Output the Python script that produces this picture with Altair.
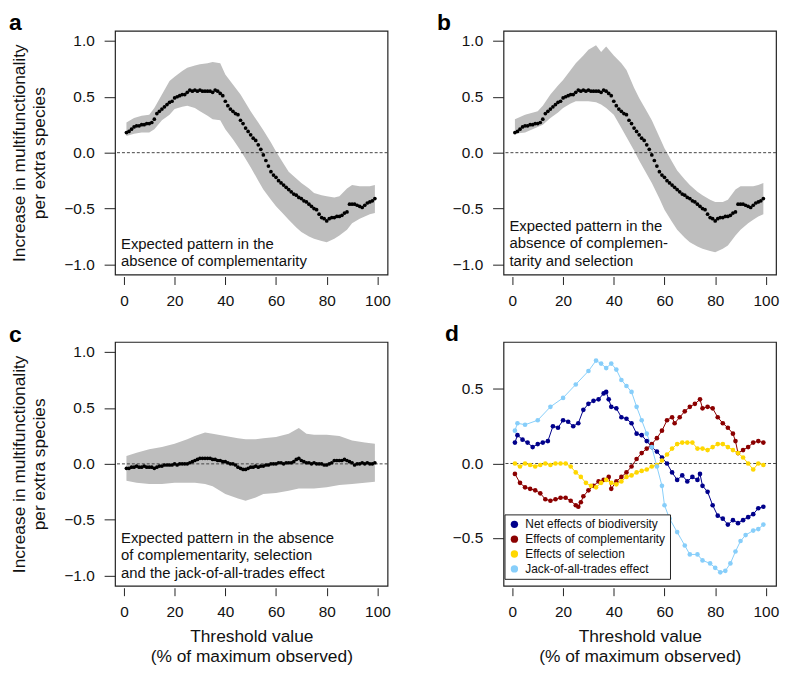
import altair as alt
import pandas as pd

FONT = "Liberation Sans"

# ---------------- data ----------------
thr = list(range(1, 100))

mean_ab = [0.18, 0.19, 0.21, 0.23, 0.24, 0.24, 0.25, 0.25, 0.26, 0.26,
           0.27, 0.30, 0.35, 0.37, 0.39, 0.41, 0.43, 0.45, 0.46, 0.49,
           0.50, 0.51, 0.52, 0.52, 0.54, 0.56, 0.55, 0.56, 0.55, 0.56,
           0.55, 0.55, 0.55, 0.55, 0.54, 0.56, 0.55, 0.53, 0.51, 0.46,
           0.42, 0.39, 0.37, 0.35, 0.34, 0.29, 0.26, 0.22, 0.19, 0.16,
           0.13, 0.11, 0.07, 0.03, -0.02, -0.07, -0.12, -0.17, -0.20, -0.22,
           -0.25, -0.27, -0.29, -0.31, -0.33, -0.35, -0.37, -0.38, -0.40, -0.41,
           -0.43, -0.44, -0.46, -0.48, -0.50, -0.51, -0.55, -0.58, -0.59, -0.61,
           -0.59, -0.58, -0.58, -0.57, -0.57, -0.56, -0.54, -0.53, -0.46, -0.46,
           -0.46, -0.47, -0.48, -0.49, -0.47, -0.45, -0.44, -0.43, -0.41]

band_a_x = [1, 4, 7, 10, 12, 15, 18, 20, 23, 25, 28, 30, 33, 35, 38, 40, 43, 46, 50, 53,
            55, 58, 60, 63, 65, 68, 70, 73, 75, 78, 80, 83, 85, 88, 90, 93, 95, 97, 99]
band_a_lo = [0.15, 0.17, 0.18, 0.18, 0.21, 0.29, 0.34, 0.39, 0.41, 0.42, 0.40, 0.37, 0.33,
             0.30, 0.29, 0.21, 0.12, 0.02, -0.13, -0.25, -0.33, -0.42, -0.48, -0.55, -0.60,
             -0.67, -0.71, -0.75, -0.77, -0.79, -0.80, -0.77, -0.74, -0.69, -0.63, -0.59,
             -0.57, -0.55, -0.54]
band_a_hi = [0.27, 0.31, 0.33, 0.34, 0.40, 0.52, 0.64, 0.68, 0.73, 0.76, 0.78, 0.79, 0.80,
             0.81, 0.80, 0.70, 0.61, 0.52, 0.37, 0.27, 0.20, 0.09, 0.01, -0.10, -0.17,
             -0.23, -0.27, -0.32, -0.36, -0.38, -0.39, -0.40, -0.39, -0.32, -0.29, -0.30,
             -0.30, -0.30, -0.29]

band_b_x = [1, 5, 10, 12, 15, 18, 20, 23, 25, 28, 30, 33, 35, 37, 40, 43, 45, 48, 50, 53,
            55, 58, 60, 63, 65, 68, 70, 73, 75, 78, 80, 83, 85, 88, 90, 93, 95, 97, 99]
band_b_lo = [0.17, 0.18, 0.23, 0.25, 0.31, 0.36, 0.40, 0.44, 0.46, 0.46, 0.46, 0.45, 0.43,
             0.40, 0.34, 0.22, 0.14, 0.02, -0.07, -0.19, -0.27, -0.41, -0.51, -0.62, -0.69,
             -0.76, -0.80, -0.84, -0.86, -0.88, -0.89, -0.86, -0.83, -0.74, -0.69, -0.63,
             -0.60, -0.57, -0.55]
band_b_hi = [0.30, 0.34, 0.37, 0.42, 0.52, 0.60, 0.65, 0.74, 0.80, 0.87, 0.92, 0.96, 0.90,
             0.95, 0.87, 0.80, 0.74, 0.58, 0.49, 0.37, 0.29, 0.14, 0.04, -0.08, -0.16,
             -0.24, -0.29, -0.35, -0.38, -0.42, -0.44, -0.44, -0.42, -0.33, -0.30, -0.30,
             -0.30, -0.29, -0.27]

mean_c = [-0.04, -0.04, -0.03, -0.03, -0.02, -0.03, -0.03, -0.02, -0.03, -0.03,
          -0.03, -0.04, -0.03, -0.02, -0.02, -0.01, -0.01, -0.01, -0.01, 0.00,
          -0.01, 0.00, 0.00, 0.00, 0.00, 0.01, 0.02, 0.03, 0.04, 0.05,
          0.05, 0.05, 0.05, 0.05, 0.04, 0.04, 0.03, 0.03, 0.02, 0.02,
          0.01, 0.00, 0.00, -0.01, -0.03, -0.04, -0.05, -0.05, -0.04, -0.03,
          -0.03, -0.02, -0.03, -0.02, -0.02, -0.01, -0.01, 0.00, 0.00, 0.00,
          0.01, 0.01, 0.00, 0.01, 0.01, 0.01, 0.02, 0.04, 0.05, 0.03,
          0.02, 0.01, 0.01, 0.00, 0.01, 0.00, 0.00, 0.00, -0.01, -0.01,
          0.00, 0.01, 0.03, 0.03, 0.03, 0.03, 0.04, 0.03, 0.02, 0.01,
          -0.01, 0.00, 0.00, 0.01, 0.00, 0.01, 0.00, 0.00, 0.01]

band_c_x = [1, 5, 10, 15, 20, 25, 28, 32, 35, 40, 45, 48, 52, 55, 60, 65, 69, 72, 75, 80,
            85, 90, 95, 99]
band_c_lo = [-0.15, -0.17, -0.18, -0.18, -0.17, -0.17, -0.17, -0.18, -0.20, -0.27, -0.31,
             -0.33, -0.30, -0.27, -0.26, -0.24, -0.22, -0.22, -0.22, -0.21, -0.19, -0.18,
             -0.17, -0.16]
band_c_hi = [0.07, 0.10, 0.13, 0.15, 0.18, 0.22, 0.25, 0.28, 0.27, 0.25, 0.23, 0.22, 0.22,
             0.23, 0.24, 0.27, 0.32, 0.27, 0.26, 0.26, 0.25, 0.21, 0.19, 0.18]

series_names = ["Net effects of biodiversity", "Effects of complementarity",
                "Effects of selection", "Jack-of-all-trades effect"]
series_colors = ["#00008B", "#8B0000", "#FFD700", "#87CEFA"]

net_x = [1, 2, 4, 6, 8, 10, 12, 14, 16, 18, 20, 22, 24, 26, 28, 30, 32, 34, 36, 37, 38, 39,
         41, 43, 45, 47, 49, 51, 53, 55, 57, 59, 61, 63, 65, 67, 69, 71, 73, 74, 75, 77,
         79, 81, 83, 85, 87, 89, 91, 93, 95, 97, 99]
net_y = [0.14, 0.19, 0.16, 0.14, 0.11, 0.13, 0.14, 0.15, 0.25, 0.24, 0.29, 0.28, 0.25,
         0.27, 0.36, 0.40, 0.42, 0.43, 0.47, 0.48, 0.43, 0.38, 0.37, 0.31, 0.30, 0.27,
         0.20, 0.19, 0.15, 0.11, 0.08, 0.04, 0.00, -0.06, -0.11, -0.08, -0.12, -0.09,
         -0.11, -0.07, -0.15, -0.19, -0.28, -0.35, -0.37, -0.41, -0.38, -0.40, -0.38,
         -0.36, -0.34, -0.30, -0.29]

comp_x = [1, 3, 5, 7, 9, 11, 13, 15, 17, 19, 21, 23, 25, 26, 27, 28, 30, 32, 34, 36, 38,
          39, 41, 43, 45, 47, 49, 51, 53, 55, 57, 59, 61, 63, 64, 66, 68, 70, 72, 74, 75,
          77, 79, 81, 83, 85, 87, 88, 89, 91, 93, 95, 97, 99]
comp_y = [-0.07, -0.13, -0.16, -0.17, -0.18, -0.20, -0.24, -0.25, -0.24, -0.23, -0.23,
          -0.25, -0.28, -0.29, -0.26, -0.22, -0.18, -0.15, -0.12, -0.11, -0.09, -0.17,
          -0.12, -0.09, -0.06, -0.02, 0.03, 0.07, 0.10, 0.13, 0.17, 0.22, 0.29, 0.31,
          0.27, 0.31, 0.35, 0.38, 0.40, 0.43, 0.37, 0.38, 0.37, 0.31, 0.27, 0.24, 0.20,
          0.15, 0.07, 0.09, 0.11, 0.14, 0.15, 0.14]

sel_x = [1, 3, 5, 7, 9, 11, 13, 15, 17, 19, 21, 23, 25, 27, 29, 31, 33, 35, 37, 39, 41,
         43, 45, 47, 49, 51, 53, 55, 57, 59, 61, 63, 65, 67, 69, 71, 73, 75, 77, 79, 81,
         83, 85, 87, 89, 91, 93, 95, 97, 99]
sel_y = [0.00, -0.02, 0.00, -0.01, -0.02, -0.01, 0.00, -0.01, 0.00, 0.00, 0.00, -0.02,
         -0.06, -0.09, -0.13, -0.15, -0.16, -0.13, -0.11, -0.13, -0.14, -0.12, -0.09,
         -0.08, -0.06, -0.05, -0.04, -0.02, -0.01, 0.02, 0.06, 0.10, 0.13, 0.14, 0.14,
         0.14, 0.10, 0.10, 0.09, 0.11, 0.13, 0.13, 0.11, 0.09, 0.07, 0.04, 0.00, -0.04,
         0.00, -0.01]

jack_x = [1, 2, 5, 10, 15, 20, 25, 30, 33, 35, 37, 39, 41, 43, 45, 47, 49, 51, 53, 55, 57,
          59, 60, 62, 65, 68, 70, 73, 75, 78, 80, 82, 84, 86, 88, 90, 92, 95, 97, 99]
jack_y = [0.22, 0.27, 0.26, 0.29, 0.38, 0.44, 0.53, 0.62, 0.69, 0.67, 0.64, 0.67, 0.63,
          0.56, 0.52, 0.48, 0.38, 0.29, 0.20, 0.11, -0.02, -0.15, -0.28, -0.37, -0.46,
          -0.55, -0.61, -0.61, -0.65, -0.67, -0.70, -0.73, -0.72, -0.67, -0.59, -0.52,
          -0.48, -0.45, -0.44, -0.41]

x_ticks = [0, 20, 40, 60, 80, 100]
y_ticks_abc = [-1.0, -0.5, 0.0, 0.5, 1.0]
y_ticks_d = [-0.5, 0.0, 0.5]

text_a = "Expected pattern in the\nabsence of complementarity"
text_b = "Expected pattern in the\nabsence of complemen-\ntarity and selection"
text_c = ("Expected pattern in the absence\nof complementarity, selection\n"
          "and the jack-of-all-trades effect")

y_title = ["Increase in multifunctionality", "per extra species"]
x_title = ["Threshold value", "(% of maximum observed)"]

# ---------------- helpers ----------------
W, H = 275, 246
XDOM = [-3.5, 104]
YDOM = [-1.09, 1.09]
YDOM_D = [-0.82, 0.815]
BAND = "#bebebe"


def x_axis(show_title):
    kw = dict(values=x_ticks, format="d", domain=False, grid=False, tickSize=8,
              tickColor="#222", tickWidth=1, offset=2, labelPadding=9,
              labelFont=FONT, labelFontSize=15.5, labelColor="#111",
              titleFont=FONT, titleFontSize=17.5, titleFontWeight="normal",
              titleColor="#111", titleLineHeight=20, titlePadding=8,
              labelFlush=False)
    kw["title"] = x_title if show_title else ""
    return alt.Axis(**kw)


def y_axis(values, show_title):
    kw = dict(values=values, format=".1f", domain=False, grid=False, tickSize=11,
              tickColor="#222", tickWidth=1, labelPadding=10,
              labelFont=FONT, labelFontSize=15.5, labelColor="#111",
              titleFont=FONT, titleFontSize=17.5, titleFontWeight="normal",
              titleColor="#111", titleLineHeight=20, titlePadding=16,
              labelFlush=False)
    kw["title"] = y_title if show_title else ""
    return alt.Axis(**kw)


def letter_layer(s, px, py):
    return alt.Chart(pd.DataFrame({"t": [s]})).mark_text(
        align="left", baseline="alphabetic", font=FONT, fontSize=23,
        fontWeight="bold", color="black"
    ).encode(x=alt.value(px), y=alt.value(py), text="t:N")


def band_panel(bx, blo, bhi, mean, text, line_y, show_ytitle, show_xtitle, label, lx, ly):
    xs = alt.Scale(domain=XDOM, nice=False, zero=False)
    ys = alt.Scale(domain=YDOM, nice=False, zero=False)
    band_df = pd.DataFrame({"x": bx, "lo": blo, "hi": bhi})
    mean_df = pd.DataFrame({"x": thr, "y": mean})
    area = alt.Chart(band_df).mark_area(color=BAND, opacity=1).encode(
        x=alt.X("x:Q", scale=xs, axis=x_axis(show_xtitle)),
        y=alt.Y("lo:Q", scale=ys, axis=y_axis(y_ticks_abc, show_ytitle)),
        y2="hi:Q",
    )
    zero = alt.Chart(pd.DataFrame({"z": [0.0]})).mark_rule(
        color="#444", strokeDash=[3, 2], strokeWidth=1
    ).encode(y=alt.Y("z:Q", scale=ys))
    pts = alt.Chart(mean_df).mark_circle(color="black", size=14, opacity=1).encode(
        x=alt.X("x:Q", scale=xs), y=alt.Y("y:Q", scale=ys)
    )
    txt = alt.Chart(pd.DataFrame({"t": [text]})).mark_text(
        align="left", baseline="alphabetic", font=FONT, fontSize=15, lineHeight=17.5,
        lineBreak="\n", color="#111"
    ).encode(x=alt.value(6), y=alt.value(line_y), text="t:N")
    return alt.layer(area, zero, pts, txt, letter_layer(label, lx, ly)).properties(
        width=W, height=H
    )


pa = band_panel(band_a_x, band_a_lo, band_a_hi, mean_ab, text_a, 220, True, False, "a", -107, -1)
pb = band_panel(band_b_x, band_b_lo, band_b_hi, mean_ab, text_b, 202, False, False, "b", -67, -1)
pc = band_panel(band_c_x, band_c_lo, band_c_hi, mean_c, text_c, 203, True, True, "c", -107, 0)

# panel d
rows = []
for name, xs_, ys_ in zip(series_names, [net_x, comp_x, sel_x, jack_x],
                          [net_y, comp_y, sel_y, jack_y]):
    for xv, yv in zip(xs_, ys_):
        rows.append({"series": name, "x": xv, "y": yv})
d_df = pd.DataFrame(rows)

xs_d = alt.Scale(domain=XDOM, nice=False, zero=False)
ys_d = alt.Scale(domain=YDOM_D, nice=False, zero=False)
cscale = alt.Scale(domain=series_names, range=series_colors)

d_lines = alt.Chart(d_df).mark_line(strokeWidth=1).encode(
    x=alt.X("x:Q", scale=xs_d, axis=x_axis(True)),
    y=alt.Y("y:Q", scale=ys_d, axis=y_axis(y_ticks_d, False)),
    color=alt.Color("series:N", scale=cscale, legend=None),
    detail="series:N",
    order="x:Q",
)
d_pts = alt.Chart(d_df).mark_circle(size=22, opacity=1).encode(
    x=alt.X("x:Q", scale=xs_d),
    y=alt.Y("y:Q", scale=ys_d),
    color=alt.Color(
        "series:N", scale=cscale,
        legend=alt.Legend(
            title=None, orient="none", legendX=1, legendY=174,
            labelFont=FONT, labelFontSize=12, labelColor="#111",
            symbolType="circle", symbolSize=55, symbolStrokeWidth=0,
            strokeColor="#222", fillColor="white", padding=4, rowPadding=3,
            labelOffset=5, labelLimit=300,
        ),
    ),
)
d_zero = alt.Chart(pd.DataFrame({"z": [0.0]})).mark_rule(
    color="#444", strokeDash=[3, 2], strokeWidth=1
).encode(y=alt.Y("z:Q", scale=ys_d))

pd_ = alt.layer(d_zero, d_lines, d_pts, letter_layer("d", -59, -1)).resolve_legend(
    color="independent"
).properties(width=W, height=H)

chart = alt.concat(
    pa, pb, pc, pd_, columns=2, spacing={"row": 68, "column": 117}, bounds="flush"
).properties(
    padding={"left": 0, "top": 0, "right": 0, "bottom": 0},
    background="white",
).configure_view(
    stroke="#222", strokeWidth=1.2
)

chart.save("out.html", embed_options={"renderer": "svg", "actions": False})
